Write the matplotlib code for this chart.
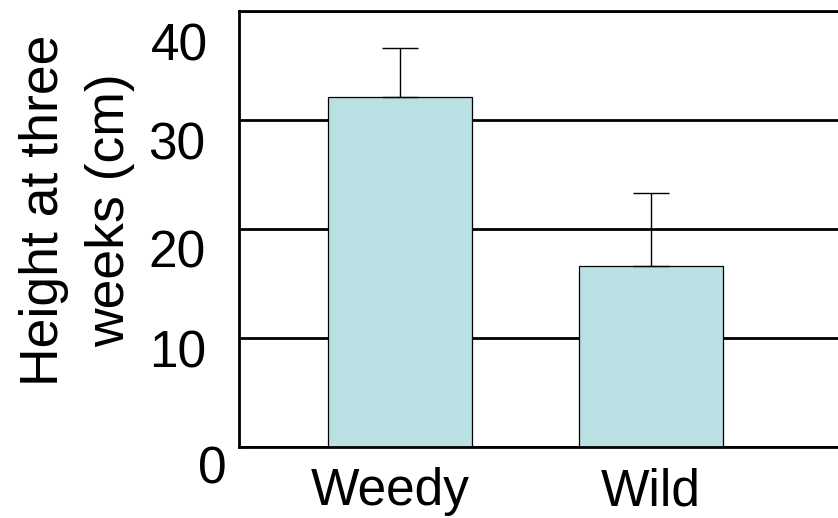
""" Bar chart of plant height at three weeks, weedy vs wild. """
import matplotlib
matplotlib.use("Agg")
import matplotlib.pyplot as plt
from matplotlib.transforms import ScaledTranslation

categories = ["Weedy", "Wild"]
heights = [32.1, 16.6]
errors_up = [4.5, 6.7]
y_ticks = [0, 10, 20, 30, 40]
y_tick_labels = ["0", "10", "20", "30", "40"]
# label nudges in pixels (right, down), the original placement is irregular
ytick_nudge = [(21, 18), (1, 11), (0, 19), (0, 20), (2, 30)]
xtick_nudge = [(-10, 0), (0, 0)]


def main():
    plt.rcParams['font.family'] = ['Liberation Sans', 'DejaVu Sans']
    fig = plt.figure(figsize=(8.38, 5.18), dpi=100)
    W, H = 838, 518
    ax = fig.add_axes([239 / W, (H - 447) / H, (W - 239) / W, 436 / H])

    x = list(range(len(categories)))
    ax.bar(x, heights, width=0.574, color='#B9E0E3', edgecolor='black',
           linewidth=0.9, zorder=2)
    ax.errorbar(x, heights, yerr=[[0] * len(x), errors_up], fmt='none',
                ecolor='black', elinewidth=1.0, capsize=13.3, capthick=1.0,
                zorder=3)

    ax.set_xlim(-0.643, 1.745)
    ax.set_ylim(0, 40)
    ax.set_xticks(x)
    ax.set_xticklabels(categories, fontsize=37)
    ax.set_yticks(y_ticks)
    ax.set_yticklabels(y_tick_labels, fontsize=37)
    ax.tick_params(axis='x', length=0, pad=14.5)
    ax.tick_params(axis='y', length=0, pad=24)

    for lab, (dx, dy) in zip(ax.get_yticklabels(), ytick_nudge):
        lab.set_transform(lab.get_transform() +
                          ScaledTranslation(dx / 100, -dy / 100, fig.dpi_scale_trans))
    for lab, (dx, dy) in zip(ax.get_xticklabels(), xtick_nudge):
        lab.set_transform(lab.get_transform() +
                          ScaledTranslation(dx / 100, -dy / 100, fig.dpi_scale_trans))

    ax.yaxis.grid(True, color='black', linewidth=2.0)
    ax.set_axisbelow(True)
    ax.spines['right'].set_visible(False)
    for side in ['left', 'top', 'bottom']:
        ax.spines[side].set_linewidth(2.0)

    ax.set_ylabel('Height at three\nweeks (cm)', fontsize=38.5, linespacing=1.42)
    ax.yaxis.set_label_coords((135 - 239) / (W - 239), (447 - 210) / 436)

    fig.savefig('out.png', dpi=100)


if __name__ == "__main__":
    main()
